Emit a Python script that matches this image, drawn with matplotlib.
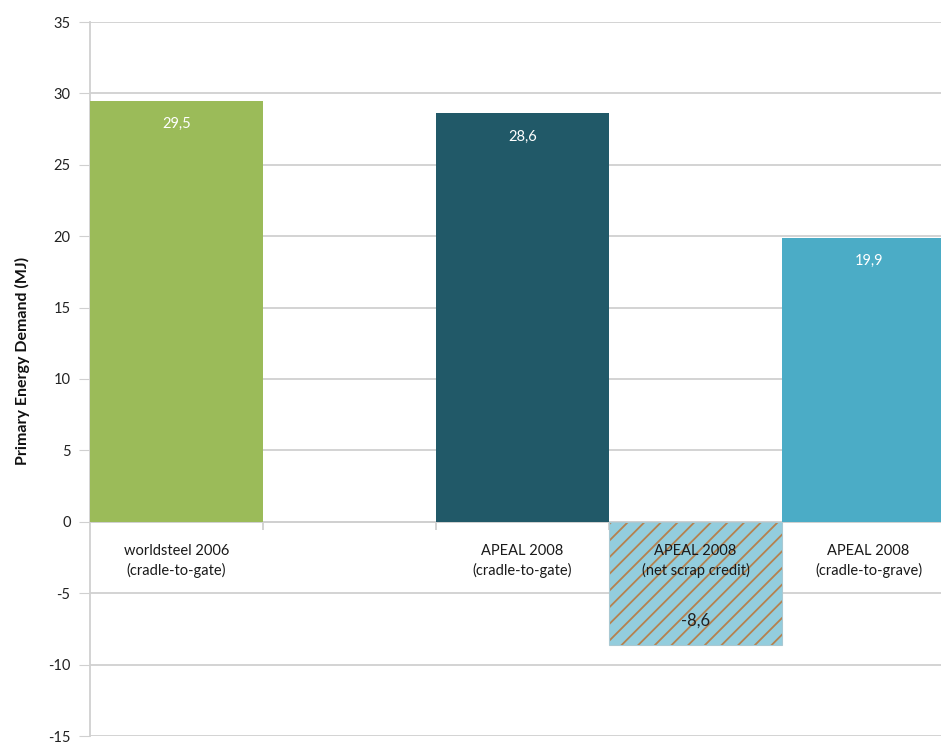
import matplotlib
matplotlib.use('Agg')
import matplotlib.pyplot as plt

plt.rcParams['font.family'] = ['Lato', 'DejaVu Sans']
plt.rcParams['hatch.linewidth'] = 1.3
plt.rcParams['axes.unicode_minus'] = False

# slot 1 stays empty, as in the original chart
SLOTS = [0, 1, 2, 3, 4]
LABELS = ['worldsteel 2006\n(cradle-to-gate)', '',
          'APEAL 2008\n(cradle-to-gate)', 'APEAL 2008\n(net scrap credit)',
          'APEAL 2008\n(cradle-to-grave)']
BAR_POS = [0, 2, 3, 4]
BAR_VAL = [29.5, 28.6, -8.6, 19.9]
BAR_TXT = ['29,5', '28,6', '-8,6', '19,9']
COLORS = ['#9bbb59', '#215968', '#93cddd', '#4bacc6']
HATCH = [None, None, '//', None]
TXT_COL = ['white', 'white', '#222222', 'white']
TXT_SIZE = [10.5, 10.5, 12, 10.5]
GRID = '#d0d0d0'

fig = plt.figure(figsize=(9.41, 7.45), dpi=100)
ax = fig.add_axes([90 / 941, 9 / 745, 851 / 941, 714 / 745])

for x, v, c, h in zip(BAR_POS, BAR_VAL, COLORS, HATCH):
    if h:
        ax.bar(x, v, width=1.0, color=c, hatch=h, edgecolor='#b5814f',
               linewidth=0, zorder=3)
        ax.bar(x, v, width=1.0, fill=False, edgecolor='#a9c9d3',
               linewidth=0.8, zorder=3)
    else:
        ax.bar(x, v, width=1.0, color=c, linewidth=0, zorder=3)

for x, v, t, tc, fs in zip(BAR_POS, BAR_VAL, BAR_TXT, TXT_COL, TXT_SIZE):
    off = -1.65 if v > 0 else 1.65
    ax.text(x, v + off, t, ha='center', va='center', fontsize=fs,
            color=tc, zorder=4)

for x, lab in zip(SLOTS, LABELS):
    if lab:
        ax.text(x, -2.75, lab, ha='center', va='center', fontsize=10.5,
                color='#1a1a1a', linespacing=1.45, zorder=4)

ax.set_xlim(-0.5, 4.5 - 14 / 173)
ax.set_ylim(-15, 35)
ax.set_yticks(range(-15, 36, 5))
ax.tick_params(axis='y', length=8, color=GRID, labelsize=10.5,
               labelcolor='#222222', pad=6)
ax.yaxis.grid(True, color=GRID, lw=1.3, zorder=0)
ax.set_axisbelow(True)

ax.spines[['top', 'right']].set_visible(False)
ax.spines['left'].set_color(GRID)
ax.spines['left'].set_linewidth(1.3)
ax.spines['bottom'].set_position(('data', 0))
ax.spines['bottom'].set_color(GRID)
ax.spines['bottom'].set_linewidth(1.3)
ax.spines['bottom'].set_zorder(2)
ax.set_xticks([0.5, 1.5, 2.5, 3.5], ['', '', '', ''])
ax.tick_params(axis='x', length=6, color=GRID, width=1.3)

fig.text(22 / 941, 1 - 361 / 745, 'Primary Energy Demand (MJ)',
         rotation=90, ha='center', va='center', fontsize=11.5,
         fontweight='bold', color='#111111')

fig.savefig('out.png', dpi=100)
